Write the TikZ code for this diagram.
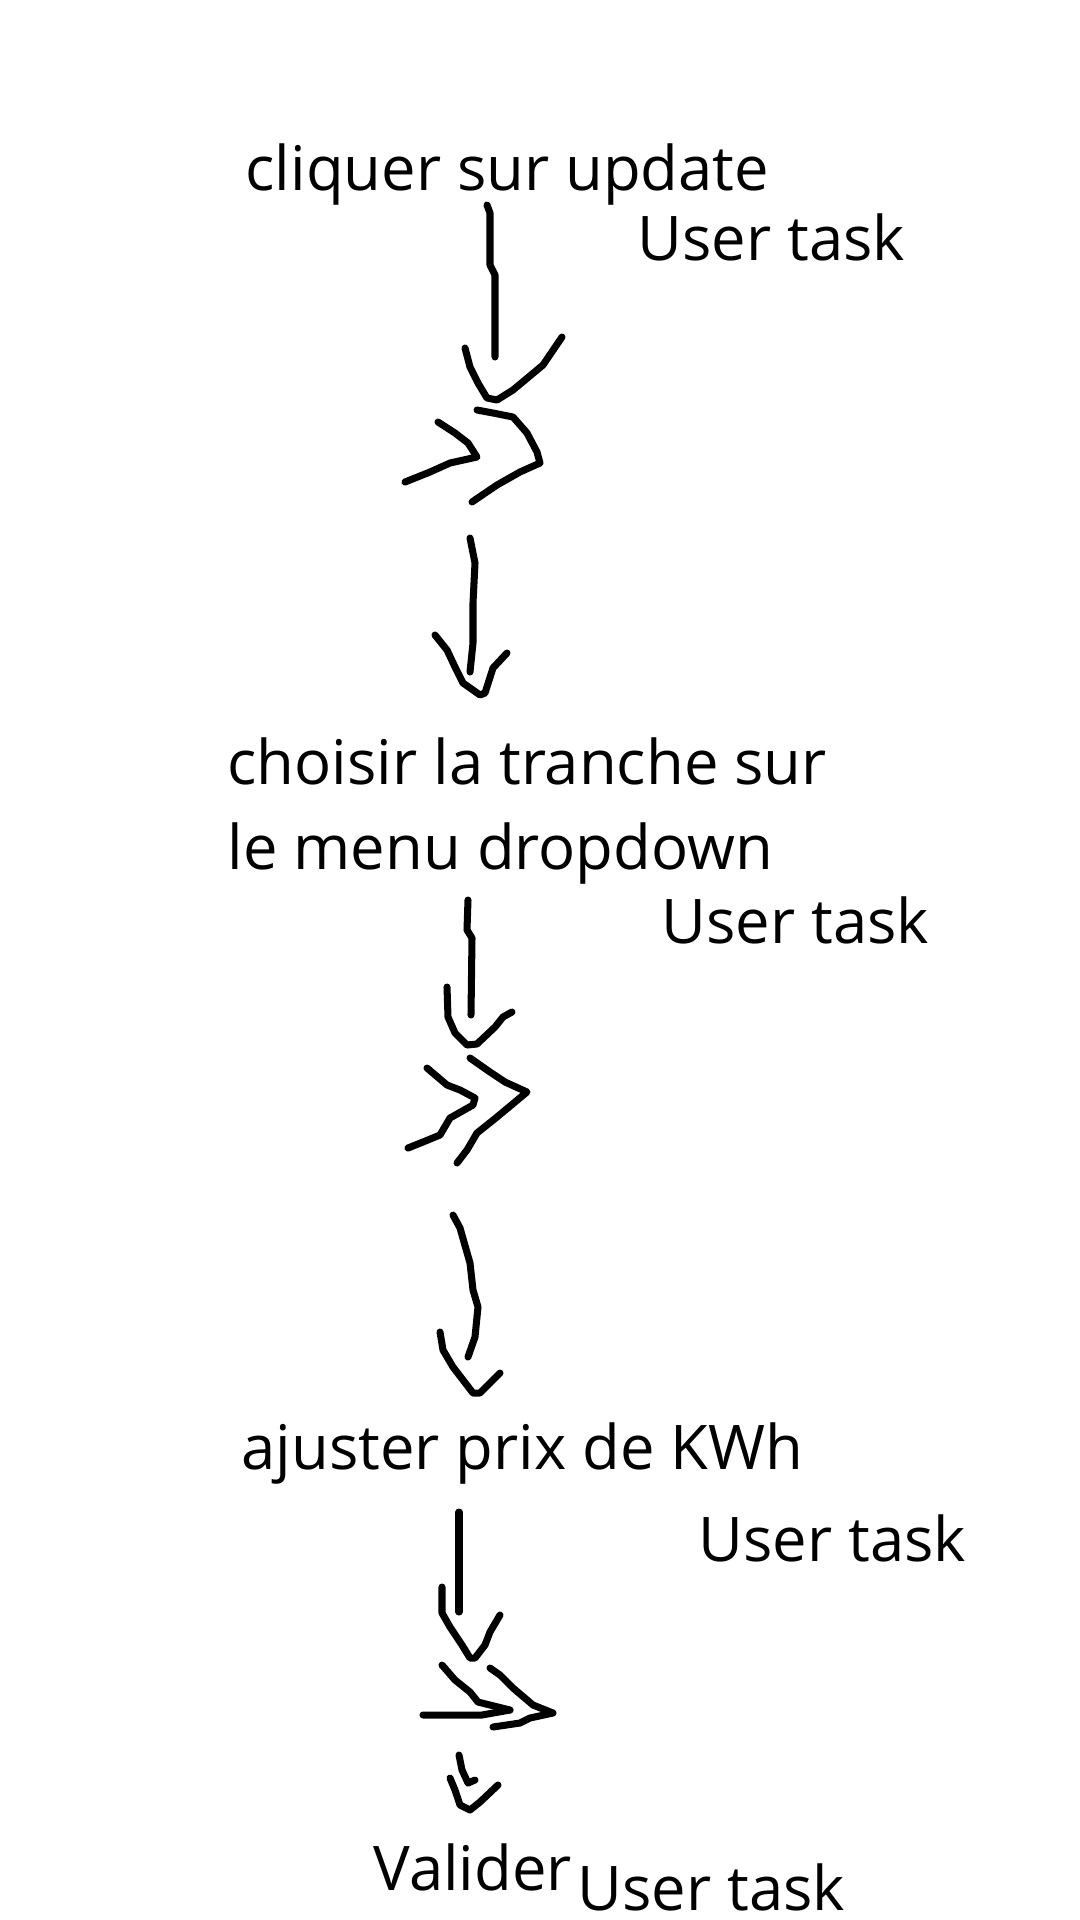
\documentclass[tikz,border=0pt]{standalone}
\usepackage{fontspec}
\setmainfont{Open Sans}
\tikzset{
    pen/.style={line width=2pt,line cap=round,line join=round},
    txt/.style={anchor=base west,inner sep=0pt,font=\fontsize{17.5}{21}\selectfont}
}
\begin{document}
\begin{tikzpicture}[x=0.01cm,y=-0.01cm]
    \useasboundingbox (0,0) rectangle (1080,1920);
    \node[txt] (update) at (245,190) {cliquer sur update};
    \node[txt] (task1) at (637,260) {User task};
    \node[txt] (tranche) at (227,784) {choisir la tranche sur};
    \node[txt] (menu) at (227,869) {le menu dropdown};
    \node[txt] (task2) at (661,943) {User task};
    \node[txt] (prix) at (241,1469) {ajuster prix de KWh};
    \node[txt] (task3) at (698,1561) {User task};
    \node[txt] (valider) at (373,1890) {Valider};
    \node[txt] (task4) at (577,1910) {User task};

    \draw[pen] (487,205) -- (490,213) -- (490,265) -- (495,275) -- (495,357);
    \draw[pen] (465,348) -- (470,367) -- (478,383) -- (487,398) -- (497,400) -- (513,390) -- (543,365) -- (562,337);
    \draw[pen] (438,422) -- (455,433) -- (468,443) -- (477,457) -- (450,463) -- (430,472) -- (405,482);
    \draw[pen] (477,410) -- (493,413) -- (513,417) -- (527,433) -- (537,452) -- (540,463) -- (520,472) -- (497,485) -- (472,502);

    \draw[pen] (470,538) -- (475,563) -- (473,603) -- (473,643) -- (470,672);
    \draw[pen] (435,635) -- (447,650) -- (455,667) -- (463,683) -- (480,695) -- (485,693) -- (493,668) -- (507,653);

    \draw[pen] (468,900) -- (467,930) -- (472,938) -- (471,1015);
    \draw[pen] (447,987) -- (448,1017) -- (455,1033) -- (467,1045) -- (477,1044) -- (495,1027) -- (503,1017) -- (512,1012);
    \draw[pen] (427,1068) -- (447,1085) -- (460,1090) -- (475,1098) -- (473,1105) -- (450,1118) -- (440,1135) -- (423,1142) -- (408,1148);
    \draw[pen] (470,1058) -- (490,1072) -- (505,1082) -- (527,1092) -- (497,1117) -- (477,1133) -- (467,1150) -- (457,1163);

    \draw[pen] (453,1215) -- (460,1228) -- (470,1263) -- (473,1290) -- (478,1307) -- (475,1337) -- (468,1357);
    \draw[pen] (440,1332) -- (443,1350) -- (453,1367) -- (473,1393) -- (480,1393) -- (500,1373);

    \draw[pen] (459,1512) -- (459,1612);
    \draw[pen] (442,1587) -- (442,1613) -- (450,1627) -- (462,1645) -- (470,1658) -- (475,1658) -- (485,1645) -- (490,1632) -- (500,1615);
    \draw[pen] (423,1715) -- (482,1715) -- (510,1710);
    \draw[pen] (442,1665) -- (455,1680) -- (470,1692) -- (478,1702) -- (510,1710);
    \draw[pen] (490,1668) -- (500,1675) -- (513,1688) -- (533,1705) -- (553,1713) -- (530,1718) -- (520,1723) -- (493,1727);
    \draw[pen] (459,1755) -- (462,1770) -- (468,1783) -- (475,1780);
    \draw[pen] (450,1778) -- (455,1790) -- (460,1805) -- (470,1810) -- (480,1802) -- (498,1785);
\end{tikzpicture}
\end{document}
